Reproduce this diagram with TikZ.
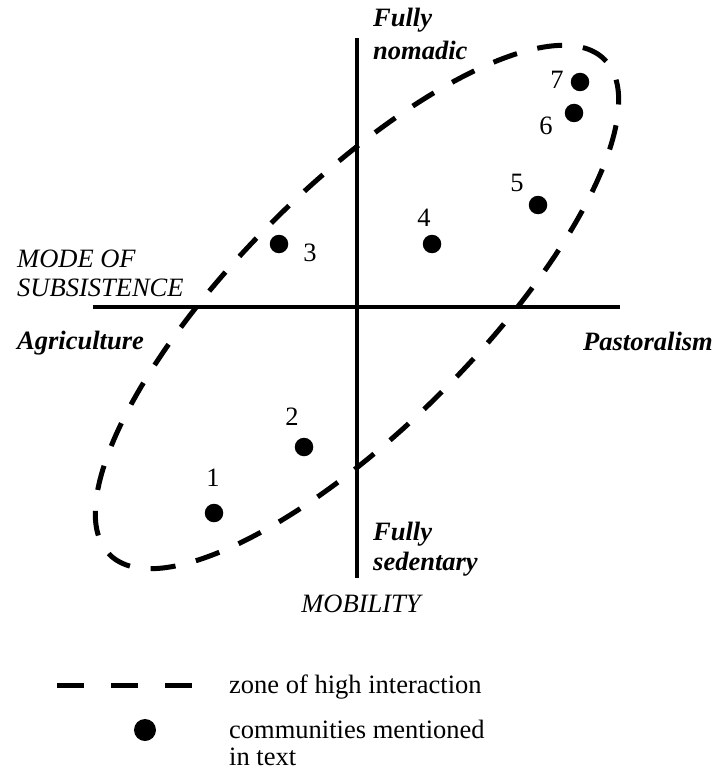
\documentclass[tikz,border=0pt]{standalone}
\usepackage{fontspec}
\setmainfont{Liberation Serif}
\begin{document}
\begin{tikzpicture}[x=1pt,y=-1pt,
  axis/.style={line width=4.5pt},
  zone/.style={line width=5pt, dash pattern=on 25pt off 21pt},
  community/.style={circle, fill=black, inner sep=0pt, minimum size=18.5pt},
  num/.style={inner sep=0pt, font=\fontsize{26.5}{30}\selectfont},
  lbl/.style={inner sep=0pt, anchor=base west, font=\fontsize{26.5}{30}\selectfont\bfseries\itshape},
  axtitle/.style={inner sep=0pt, anchor=base west, font=\fontsize{26.5}{30}\selectfont\itshape},
  legendtext/.style={inner sep=0pt, anchor=base west, font=\fontsize{26.5}{30}\selectfont}]
\useasboundingbox (0,0) rectangle (715,770);
\fill[white] (0,0) rectangle (715,770);
% axes
\coordinate (vtop) at (357,38);
\coordinate (vbot) at (357,578);
\coordinate (hl) at (93,307);
\coordinate (hr) at (620,307);
\draw[axis] (vtop) -- (vbot);
\draw[axis] (hl) -- (hr);
% zone of high interaction
\draw[zone, rotate around={45:(357,307)}] (357,307) ellipse [x radius=350pt, y radius=120pt];
% communities
\node[community] (c1) at (214,513) {};
\node[community] (c2) at (304,447) {};
\node[community] (c3) at (279,244) {};
\node[community] (c4) at (432,244) {};
\node[community] (c5) at (538,205) {};
\node[community] (c6) at (574,113) {};
\node[community] (c7) at (580,82) {};
\node[num] (n1) at (213,478) {1};
\node[num] (n2) at (292,417) {2};
\node[num] (n3) at (310,253) {3};
\node[num] (n4) at (424,218) {4};
\node[num] (n5) at (517,183) {5};
\node[num] (n6) at (546,126) {6};
\node[num] (n7) at (557,80) {7};
% axis labels
\node[lbl] (fn1) at (373,27) {Fully};
\node[lbl] (fn2) at (373,60) {nomadic};
\node[lbl] (fs1) at (373,540) {Fully};
\node[lbl] (fs2) at (373,570) {sedentary};
\node[axtitle, anchor=base] (mob) at (361,612) {MOBILITY};
\node[axtitle] (m1) at (17,267) {MODE OF};
\node[axtitle] (m2) at (17,296) {SUBSISTENCE};
\node[lbl] (agr) at (17,349) {Agriculture};
\node[lbl, anchor=base east] (pas) at (713,350) {Pastoralism};
% legend
\coordinate (la) at (57,685);
\coordinate (lb) at (192,685);
\draw[line width=5pt, dash pattern=on 27pt off 27pt] (la) -- (lb);
\node[community, minimum size=22pt] (ld) at (145,730) {};
\node[legendtext] (lt1) at (229,693) {zone of high interaction};
\node[legendtext] (lt2) at (229,738) {communities mentioned};
\node[legendtext] (lt3) at (229,765) {in text};
\end{tikzpicture}
\end{document}
